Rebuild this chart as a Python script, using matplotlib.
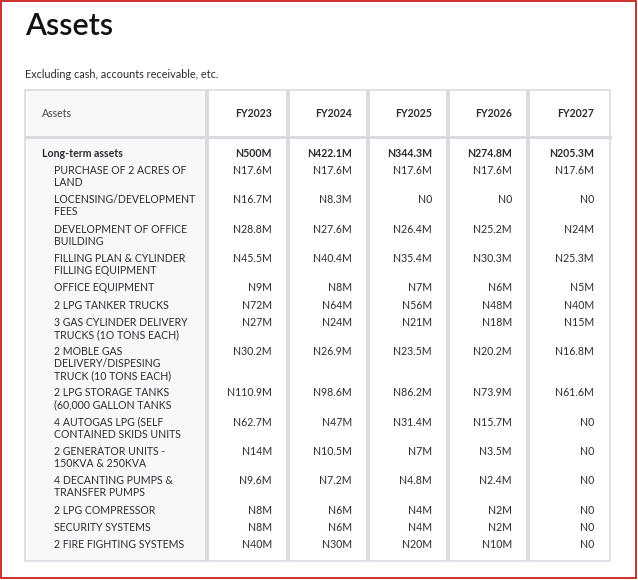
import matplotlib.pyplot as plt
from matplotlib.patches import Rectangle

plt.rcParams['font.family'] = ['Lato', 'DejaVu Sans']

years = ['FY2023', 'FY2024', 'FY2025', 'FY2026', 'FY2027']
total = ['N500M', 'N422.1M', 'N344.3M', 'N274.8M', 'N205.3M']
items = ['PURCHASE OF 2 ACRES OF\nLAND',
         'LOCENSING/DEVELOPMENT\nFEES',
         'DEVELOPMENT OF OFFICE\nBUILDING',
         'FILLING PLAN & CYLINDER\nFILLING EQUIPMENT',
         'OFFICE EQUIPMENT',
         '2 LPG TANKER TRUCKS',
         '3 GAS CYLINDER DELIVERY\nTRUCKS (1O TONS EACH)',
         '2 MOBLE GAS\nDELIVERY/DISPESING\nTRUCK (10 TONS EACH)',
         '2 LPG STORAGE TANKS\n(60,000 GALLON TANKS',
         '4 AUTOGAS LPG (SELF\nCONTAINED SKIDS UNITS',
         '2 GENERATOR UNITS -\n150KVA & 250KVA',
         '4 DECANTING PUMPS &\nTRANSFER PUMPS',
         '2 LPG COMPRESSOR',
         'SECURITY SYSTEMS',
         '2 FIRE FIGHTING SYSTEMS']
fy2023 = ['N17.6M', 'N16.7M', 'N28.8M', 'N45.5M', 'N9M', 'N72M', 'N27M', 'N30.2M',
          'N110.9M', 'N62.7M', 'N14M', 'N9.6M', 'N8M', 'N8M', 'N40M']
fy2024 = ['N17.6M', 'N8.3M', 'N27.6M', 'N40.4M', 'N8M', 'N64M', 'N24M', 'N26.9M',
          'N98.6M', 'N47M', 'N10.5M', 'N7.2M', 'N6M', 'N6M', 'N30M']
fy2025 = ['N17.6M', 'N0', 'N26.4M', 'N35.4M', 'N7M', 'N56M', 'N21M', 'N23.5M',
          'N86.2M', 'N31.4M', 'N7M', 'N4.8M', 'N4M', 'N4M', 'N20M']
fy2026 = ['N17.6M', 'N0', 'N25.2M', 'N30.3M', 'N6M', 'N48M', 'N18M', 'N20.2M',
          'N73.9M', 'N15.7M', 'N3.5M', 'N2.4M', 'N2M', 'N2M', 'N10M']
fy2027 = ['N17.6M', 'N0', 'N24M', 'N25.3M', 'N5M', 'N40M', 'N15M', 'N16.8M',
          'N61.6M', 'N0', 'N0', 'N0', 'N0', 'N0', 'N0']
cols = [fy2023, fy2024, fy2025, fy2026, fy2027]

W, H = 638, 580
fig = plt.figure(figsize=(W / 100, H / 100), dpi=100)
ax = fig.add_axes([0, 0, 1, 1])
ax.set_xlim(0, W)
ax.set_ylim(H, 0)
ax.axis('off')

txt = '#2b2b33'
grid = '#d9dbdf'
fs = 7.6

# frame of the screenshot
ax.add_patch(Rectangle((0.5, 0.5), 635, 577.5, fill=False, ec='#c8201e', lw=1.3))

ax.text(25, 26, 'Assets', fontsize=22, fontweight='semibold', color='#111',
        va='center', ha='left')
ax.text(25, 75, 'Excluding cash, accounts receivable, etc.', fontsize=7.8,
        color=txt, va='center')

left, right, top, bottom = 25, 610, 90, 561
hdr_bot = 137
col_edges = [207, 288, 368, 448, 528, 610]

ax.add_patch(Rectangle((left, top), col_edges[0] - left, bottom - top,
                       fc='#f8f8f9', ec='none'))
ax.add_patch(Rectangle((left, top), right - left, bottom - top,
                       fill=False, ec=grid, lw=1.2))
for x in col_edges[:-1]:
    ax.plot([x, x], [top, bottom], color=grid, lw=2.8, solid_capstyle='butt')
ax.plot([left, right], [hdr_bot, hdr_bot], color=grid, lw=2.2)

ax.text(42, 113.5, 'Assets', fontsize=fs, color='#444', va='center')
for i, y in enumerate(years):
    ax.text(col_edges[i + 1] - 16, 113.5, y, fontsize=fs, fontweight='bold',
            color=txt, va='center', ha='right')

y = 153.5
ax.text(42, y, 'Long-term assets', fontsize=fs, fontweight='bold', color=txt, va='center')
for i, v in enumerate(total):
    ax.text(col_edges[i + 1] - 16, y, v, fontsize=fs, fontweight='bold',
            color=txt, va='center', ha='right')
y += 17
lh = 12
for k, lab in enumerate(items):
    lines = lab.split('\n')
    for j, ln in enumerate(lines):
        ax.text(54, y + j * lh, ln, fontsize=fs, color=txt, va='center')
    for i, c in enumerate(cols):
        ax.text(col_edges[i + 1] - 16, y, c[k], fontsize=fs, color=txt,
                va='center', ha='right')
    y += lh * len(lines) + 5.3

fig.savefig('out.png', dpi=100)
